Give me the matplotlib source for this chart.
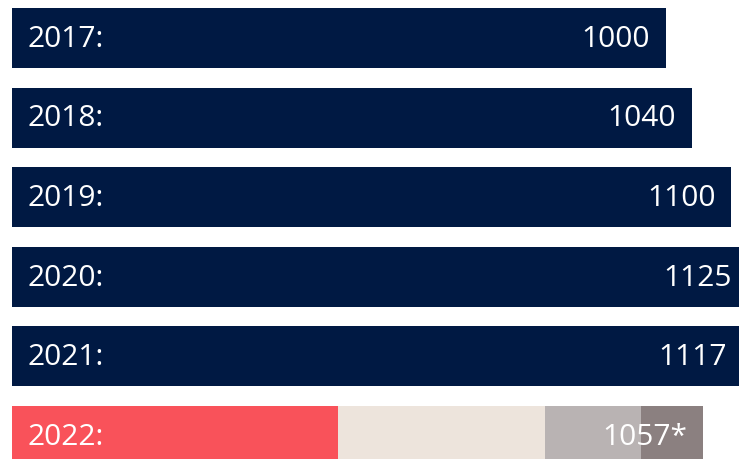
import matplotlib.pyplot as plt

years = ["2017", "2018", "2019", "2020", "2021", "2022"]
values = [1000, 1040, 1100, 1125, 1117, 1057]
labels = ["1000", "1040", "1100", "1125", "1117", "1057*"]
# 2022 split into parts
parts_2022 = [498, 317, 146, 96]
part_colors = ["#f9525a", "#ede4dc", "#b9b3b3", "#8b8080"]
navy = "#001943"

plt.rcParams['font.family'] = ['Open Sans', 'DejaVu Sans']

fig = plt.figure(figsize=(7.39, 4.59), dpi=100)
ax = fig.add_axes([0, 0, 1, 1])

h = 0.754
for i, (y, v) in enumerate(zip(years, values)):
    if y == "2022":
        left = 0
        for p, c in zip(parts_2022, part_colors):
            ax.barh(i, p, left=left, height=h, color=c, linewidth=0)
            left += p
    else:
        ax.barh(i, v, height=h, color=navy, linewidth=0)
    ax.annotate(y + ":", (0, i), xytext=(11.5, -1), textcoords="offset points",
                ha="left", va="center", color="white", fontsize=21.5,
                annotation_clip=False)
    ax.annotate(labels[i], (v, i), xytext=(-11.5, -1), textcoords="offset points",
                ha="right", va="center", color="white", fontsize=21.5,
                annotation_clip=False)

ax.set_xlim(-18.35, 1111.6)
ax.set_ylim(5.289, -0.477)
ax.axis("off")

fig.savefig("out.png", dpi=100)
